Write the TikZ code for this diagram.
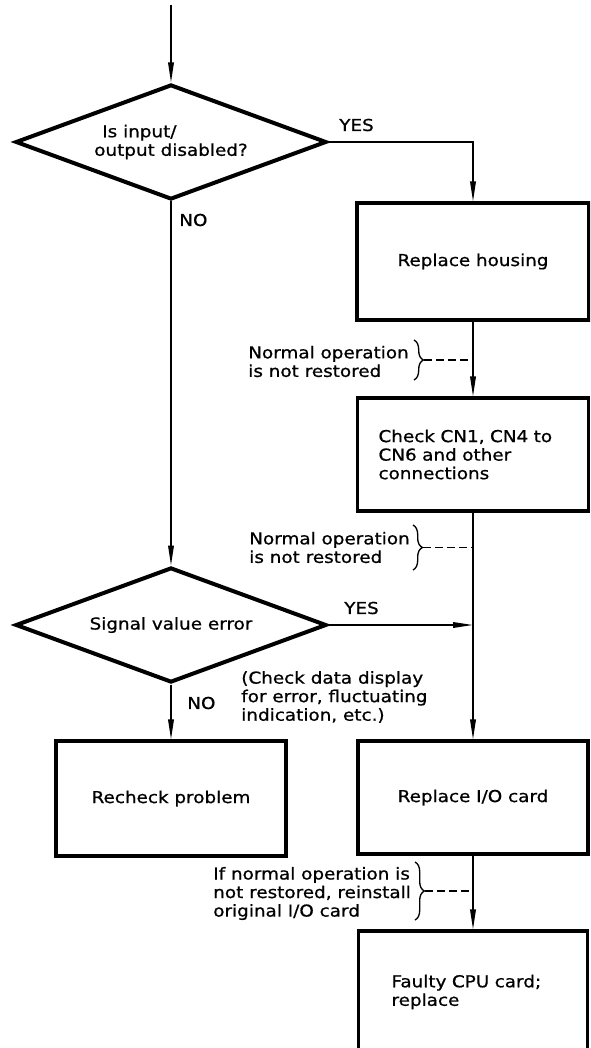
\documentclass[tikz,border=0pt]{standalone}
\usepackage{fontspec}
\setmainfont{DejaVu Sans}[FakeStretch=1.12,FakeBold=0.8]
\usetikzlibrary{arrows.meta,shapes.geometric,decorations.pathreplacing}
\begin{document}
\begin{tikzpicture}[x=0.75pt,y=-0.75pt,
  font=\fontsize{12.3pt}{13.9pt}\selectfont,
  stepbox/.style={draw, line width=2.3pt, rectangle},
  dia/.style={draw, diamond, aspect=2.7, inner sep=0pt, line width=3pt,
    minimum width=233.25pt, minimum height=86.25pt, align=left},
  conn/.style={line width=1.1pt, -{Triangle[length=15pt,width=4.2pt]}},
  lbl/.style={anchor=west, align=left, inner sep=0pt},
  dashln/.style={line width=1pt, dash pattern=on 6pt off 3pt},
  brc/.style={decorate, decoration={brace, amplitude=7pt}, line width=1pt}]
\useasboundingbox (0,0) rectangle (590,1048);
\clip (0,0) rectangle (590,1048);

% decisions
\node[dia] (d1) at (171,142) {\hspace*{6pt}Is input/\\output disabled?};
\node[dia] (d2) at (171,625) {Signal value error};

% process boxes
\node[stepbox, minimum width=174pt, minimum height=87.75pt] (b1) at (473,261.5) {Replace housing};
\node[stepbox, minimum width=173.25pt, minimum height=84.75pt, text width=141.75pt, align=left] (b2) at (473,454.5) {Check CN1, CN4 to\\CN6 and other\\connections};
\node[stepbox, minimum width=172.5pt, minimum height=84.75pt] (b3) at (473,797.5) {Replace I/O card};
\node[stepbox, minimum width=171.75pt, minimum height=91.5pt, text width=122.25pt, align=left] (b4) at (473,992) {Faulty CPU card;\\replace};
\node[stepbox, minimum width=172.5pt, minimum height=86.25pt] (rc) at (171,798.5) {Recheck problem};

% connectors
\coordinate (top) at (171,5);
\draw[conn] (top) -- (d1.north);
\draw[conn] (d1.east) -| (b1.north);
\draw[conn] (b1.south) -- (b2.north);
\draw[conn] (d1.south) -- (d2.north);
\coordinate (j) at (b2.south |- d2.east);
\draw[conn] (d2.east) -- (j);
\draw[conn] (b2.south) -- (b3.north);
\draw[conn] (d2.south) -- (rc.north);
\draw[conn] (b3.south) -- (b4.north);

% labels
\node[lbl] (yes1) at (339,125) {YES};
\node[lbl] (no1) at (179,220) {NO};
\node[lbl] (yes2) at (344,608) {YES};
\node[lbl] (no2) at (187,703) {NO};
\node[lbl] (n1) at (248,361.5) {Normal operation\\is not restored};
\node[lbl] (n2) at (249,547.5) {Normal operation\\is not restored};
\node[lbl] (chk) at (241,697) {(Check data display\\for error, fluctuating\\indication, etc.)};
\node[lbl] (n3) at (213,893.5) {If normal operation is\\not restored, reinstall\\original I/O card};

% braces with dashed leaders
\coordinate (br1t) at (414,340); \coordinate (br1b) at (414,380);
\draw[brc] (br1t) -- (br1b);
\coordinate (br1m) at (424,360);
\draw[dashln] (br1m) -- (br1m -| b1.south);

\coordinate (br2t) at (413,525); \coordinate (br2b) at (413,570);
\draw[brc] (br2t) -- (br2b);
\coordinate (br2m) at (423,547.5);
\draw[dashln] (br2m) -- (br2m -| b2.south);

\coordinate (br3t) at (415,862); \coordinate (br3b) at (415,920);
\draw[brc] (br3t) -- (br3b);
\coordinate (br3m) at (425,891);
\draw[dashln] (br3m) -- (br3m -| b3.south);
\end{tikzpicture}
\end{document}
